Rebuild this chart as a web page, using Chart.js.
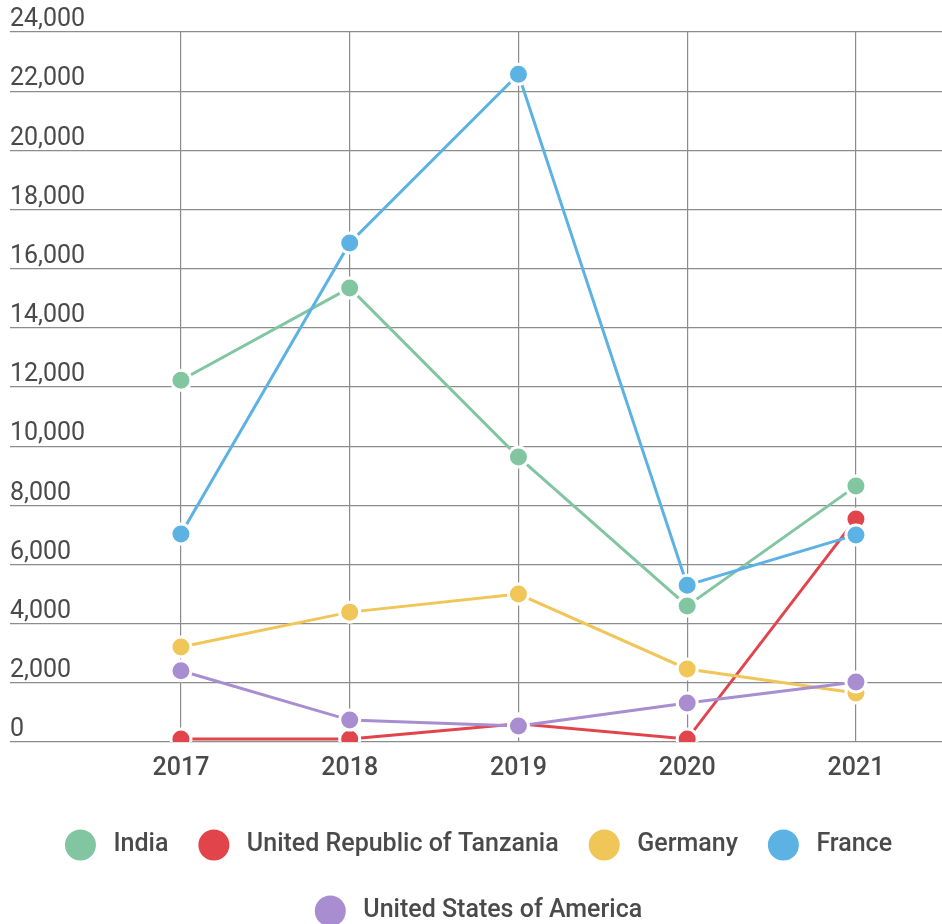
<!DOCTYPE html>
<html>
<head>
<meta charset="utf-8">
<script src="https://cdn.jsdelivr.net/npm/chart.js@4"></script>
<style>
 html, body { margin: 0; padding: 0; background: #fff; overflow: hidden; }
 canvas { display: block; }
</style>
</head>
<body>
<canvas id="chart" width="942" height="924"></canvas>
<script>
// data
const years = [2017, 2018, 2019, 2020, 2021];
const india = [12230, 15350, 9630, 4600, 8650];
const tanzania = [100, 100, 620, 100, 7540];
const germany = [3210, 4390, 5000, 2470, 1660];
const france = [7030, 16870, 22570, 5300, 7000];
const usa = [2410, 740, 540, 1320, 2030];
const yTicks = [0, 2000, 4000, 6000, 8000, 10000, 12000, 14000, 16000, 18000, 20000, 22000, 24000];

// order: lower value is drawn on top
const series = [
 { label: 'India', values: india, color: '#82c5a1', order: 4 },
 { label: 'United Republic of Tanzania', values: tanzania, color: '#e2444b', order: 3 },
 { label: 'Germany', values: germany, color: '#f0c659', order: 2 },
 { label: 'France', values: france, color: '#5bb2e3', order: 1 },
 { label: 'United States of America', values: usa, color: '#a88dd0', order: 0 },
];

const gridColor = '#8c8c8c';
const textColor = '#4a4a4a';
const font = { family: 'Roboto', size: 25, weight: '500' };

const ctx = document.getElementById('chart').getContext('2d');
new Chart(ctx, {
 type: 'line',
 data: {
   datasets: series.map(s => ({
     label: s.label,
     data: s.values.map((v, i) => ({ x: years[i], y: v })),
     borderColor: s.color,
     backgroundColor: s.color,
     borderWidth: 3,
     pointRadius: 10,
     pointHoverRadius: 10,
     pointBackgroundColor: s.color,
     pointBorderColor: '#fff',
     pointBorderWidth: 3,
     tension: 0,
     order: s.order,
   })),
 },
 options: {
   responsive: false,
   animation: false,
   layout: { autoPadding: false, padding: { left: 10, right: 0, top: 32, bottom: -17.5 } },
   scales: {
     x: {
       type: 'linear',
       min: 2015.987,
       max: 2021.51,
       afterBuildTicks: scale => { scale.ticks = years.map(v => ({ value: v })); },
       afterFit: scale => {
         scale.height = 57.5;
         scale.paddingLeft = 0;
         scale.paddingRight = 0;
       },
       grid: { color: gridColor, lineWidth: 1.2, drawTicks: false },
       border: { display: false },
       ticks: {
         padding: 12,
         color: textColor,
         font,
         callback: v => String(v),
       },
     },
     y: {
       min: 0,
       max: 24000,
       afterBuildTicks: scale => { scale.ticks = yTicks.map(v => ({ value: v })); },
       grid: { color: gridColor, lineWidth: 1.2, drawTicks: false },
       border: { display: false },
       ticks: {
         mirror: true,
         padding: 0,
         labelOffset: -12,
         color: textColor,
         font: { family: 'Roboto', size: 25, weight: '400' },
         callback: v => v.toLocaleString('en-US'),
       },
     },
   },
   plugins: {
     tooltip: { enabled: false },
     legend: {
       position: 'bottom',
       labels: {
         color: textColor,
         font,
         // 41px box with a 10px white ring leaves a 31px dot
         boxWidth: 41,
         boxHeight: 41,
         useBorderRadius: true,
         borderRadius: 20.5,
         padding: 25,
         sort: (a, b) => a.datasetIndex - b.datasetIndex,
         generateLabels: chart => Chart.defaults.plugins.legend.labels.generateLabels(chart)
           .map(item => ({ ...item, lineWidth: 10, strokeStyle: '#fff' })),
       },
     },
   },
 },
});
</script>
</body>
</html>
